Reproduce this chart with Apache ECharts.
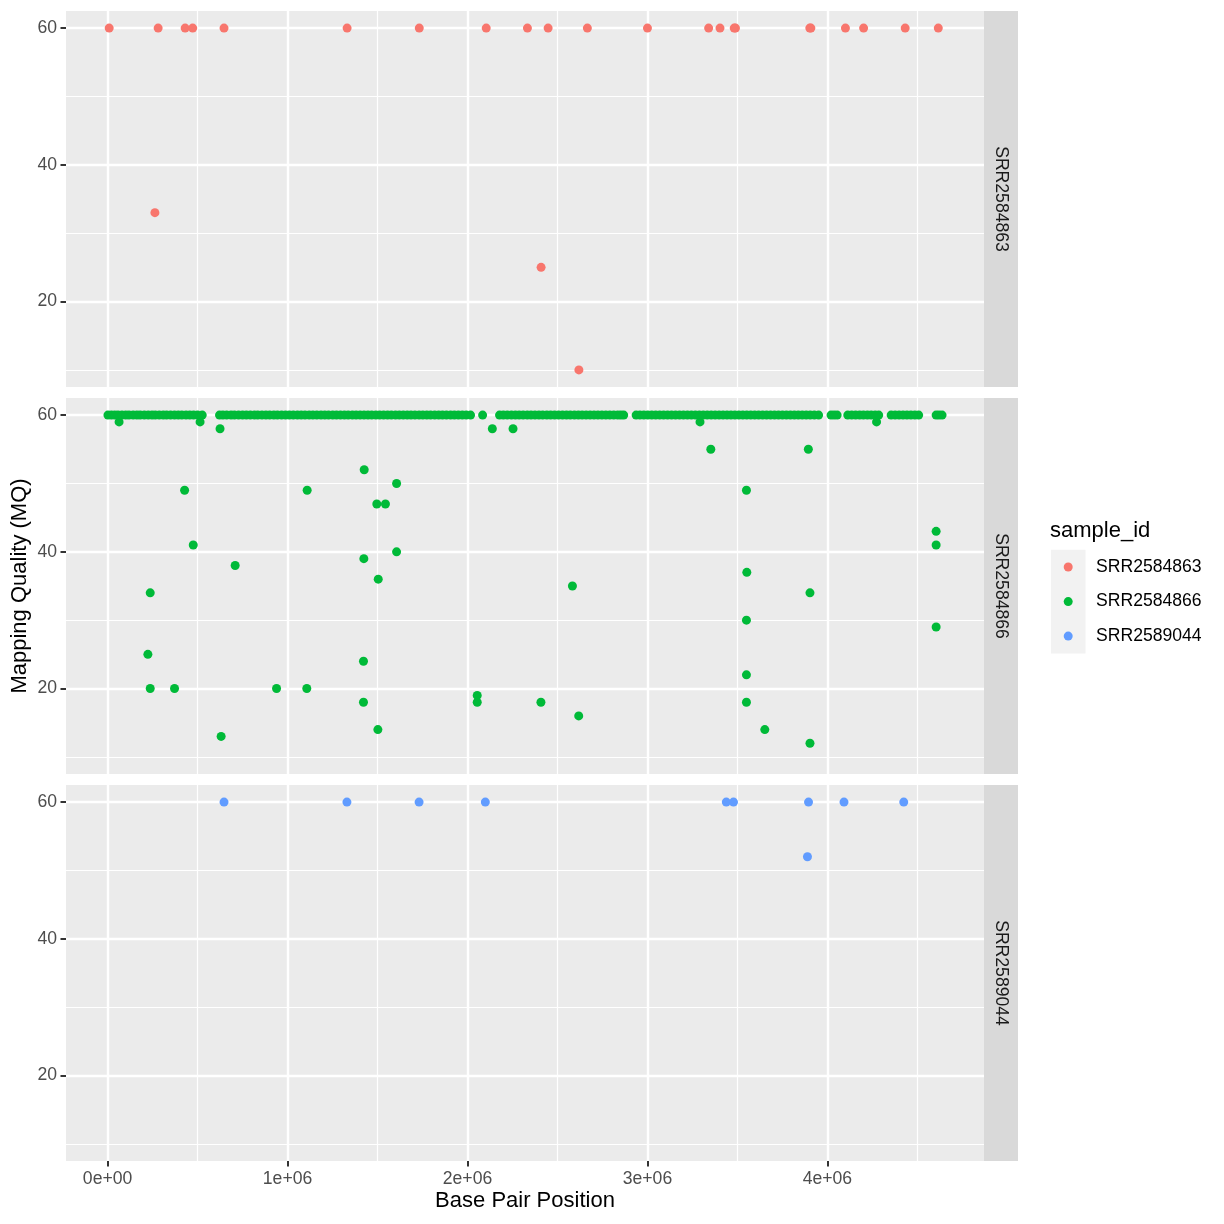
<!DOCTYPE html>
<html>
<head>
<meta charset="utf-8">
<script src="https://cdn.jsdelivr.net/npm/echarts@6/dist/echarts.min.js"></script>
<style>
html,body{margin:0;padding:0;background:#fff;}
#chart{width:1224px;height:1224px;}
</style>
</head>
<body>
<div id="chart"></div>
<script>
// ---------------- DATA ----------------
const sampleIds = ['SRR2584863', 'SRR2584866', 'SRR2589044'];
const sampleColors = ['#F8766D', '#00BA38', '#619CFF'];

const xTickValues = [0, 1000000, 2000000, 3000000, 4000000];
const xTickLabels = ['0e+00', '1e+06', '2e+06', '3e+06', '4e+06'];
const xMinorValues = [500000, 1500000, 2500000, 3500000, 4500000];
const yTickValues = [20, 40, 60];
const yTickLabels = ['20', '40', '60'];
const yMinorValues = [10, 30, 50];

// SRR2584863
const s63Pos = [9000, 263000, 281000, 431000, 473000, 647000, 1331000, 1732000, 2104000, 2333000,
  2409000, 2448000, 2619000, 2666000, 3000000, 3340000, 3403000, 3482000, 3489000, 3902000,
  3908000, 4100000, 4201000, 4432000, 4616000];
const s63MQ = [60, 33, 60, 60, 60, 60, 60, 60, 60, 60,
  25, 60, 10, 60, 60, 60, 60, 60, 60, 60,
  60, 60, 60, 60, 60];

// SRR2584866 : positions with MQ below 60
const s66LowPos = [64000, 514000, 625000, 2138000, 2253000, 3292000, 4273000,
  1426000, 1606000, 428000, 1109000, 1496000, 1544000, 476000, 1606000, 1424000, 709000, 1504000,
  237000, 224000, 1422000, 237000, 372000, 939000, 1107000, 1422000, 2054000, 2054000, 1502000, 631000,
  3352000, 3894000, 3550000, 4604000, 4604000, 3552000, 2583000, 3903000, 3550000, 4604000,
  3550000, 2408000, 3550000, 2618000, 3652000, 3903000];
const s66LowMQ = [59, 59, 58, 58, 58, 59, 59,
  52, 50, 49, 49, 47, 47, 41, 40, 39, 38, 36,
  34, 25, 24, 20, 20, 20, 20, 18, 19, 18, 14, 13,
  55, 55, 49, 43, 41, 37, 35, 34, 30, 29,
  22, 18, 18, 16, 14, 12];
// SRR2584866 : positions with MQ = 60 (dense band)
const s66TopPos = [
  2000, 21000, 40000, 58000, 80000, 101000, 119000, 142000, 163000, 181000, 204000, 226000, 247000,
  265000, 287000, 309000, 328000, 350000, 372000, 393000, 413000, 436000, 457000, 478000, 500000, 526000,
  622000, 641000, 662000, 686000, 705000, 728000, 750000, 771000, 793000, 816000, 835000, 858000,
  880000, 901000, 924000, 944000, 967000, 989000, 1010000, 1032000, 1055000, 1076000, 1097000, 1120000,
  1141000, 1163000, 1186000, 1207000, 1228000, 1251000, 1272000, 1294000, 1316000, 1337000, 1360000,
  1381000, 1403000, 1425000, 1447000, 1468000, 1491000, 1512000, 1534000, 1556000, 1577000, 1600000,
  1621000, 1643000, 1665000, 1686000, 1708000, 1731000, 1752000, 1774000, 1795000, 1818000, 1840000,
  1861000, 1883000, 1906000, 1927000, 1949000, 1971000, 1993000, 2017000,
  2084000,
  2178000, 2199000, 2221000, 2244000, 2266000, 2287000, 2309000, 2332000, 2353000, 2375000, 2397000,
  2418000, 2441000, 2462000, 2484000, 2506000, 2528000, 2550000, 2571000, 2594000, 2616000, 2637000,
  2659000, 2681000, 2703000, 2725000, 2747000, 2769000, 2791000, 2813000, 2835000, 2852000, 2868000,
  2937000, 2958000, 2980000, 3002000, 3024000, 3046000, 3068000, 3090000, 3112000, 3134000, 3156000,
  3178000, 3200000, 3222000, 3244000, 3266000, 3288000, 3310000, 3332000, 3354000, 3376000, 3398000,
  3420000, 3442000, 3464000, 3486000, 3508000, 3530000, 3552000, 3574000, 3596000, 3618000, 3640000,
  3662000, 3684000, 3706000, 3728000, 3750000, 3772000, 3794000, 3816000, 3838000, 3860000, 3882000,
  3904000, 3927000, 3951000,
  4020000, 4037000, 4054000,
  4113000, 4135000, 4157000, 4179000, 4200000, 4222000, 4243000, 4265000, 4285000,
  4354000, 4376000, 4398000, 4420000, 4442000, 4464000, 4486000, 4507000,
  4604000, 4620000, 4637000];

// SRR2589044
const s44Pos = [647000, 1330000, 1731000, 2099000, 3438000, 3478000, 3889000, 3895000, 4092000, 4424000];
const s44MQ = [60, 60, 60, 60, 60, 60, 52, 60, 60, 60];

// ---------------- BUILD ----------------
const FONT = '"Liberation Sans", Arial, Helvetica, sans-serif';
const X_MIN = -231000, X_MAX = 4870000;
const Y_MIN = 7.5, Y_MAX = 62.5;
const gridTops = [11, 398, 785];
const GRID_LEFT = 66, GRID_W = 918, GRID_H = 376;

function pairs(xs, ys) { return xs.map((x, i) => [x, ys[i]]); }
const panelData = [
  pairs(s63Pos, s63MQ),
  pairs(s66TopPos, s66TopPos.map(() => 60)).concat(pairs(s66LowPos, s66LowMQ)),
  pairs(s44Pos, s44MQ)
];

const grids = [], xAxes = [], yAxes = [], series = [];
gridTops.forEach((top, g) => {
  grids.push({left: GRID_LEFT, top: top, width: GRID_W, height: GRID_H, show: true,
    backgroundColor: '#EBEBEB', borderWidth: 0});
  const bottom = g === gridTops.length - 1;
  // major x
  xAxes.push({type: 'value', gridIndex: g, min: X_MIN, max: X_MAX, position: 'bottom',
    axisLine: {show: false, onZero: false},
    axisTick: {show: true, customValues: xTickValues, length: 5.5, inside: false,
      lineStyle: {color: bottom ? '#333333' : 'rgba(0,0,0,0)', width: 2}},
    axisLabel: {show: bottom, customValues: xTickValues, margin: 9, color: '#4D4D4D', fontSize: 17.6,
      fontFamily: FONT, formatter: v => xTickLabels[xTickValues.indexOf(v)] || ''},
    splitLine: {show: true, lineStyle: {color: '#FFFFFF', width: 2.4}}});
  // minor x
  xAxes.push({type: 'value', gridIndex: g, min: X_MIN, max: X_MAX, position: 'top',
    axisLine: {show: false, onZero: false},
    axisTick: {show: true, customValues: xMinorValues, length: 0, lineStyle: {color: 'rgba(0,0,0,0)'}},
    axisLabel: {show: false, customValues: xMinorValues},
    splitLine: {show: true, lineStyle: {color: '#FFFFFF', width: 1.2}}});
  // major y
  yAxes.push({type: 'value', gridIndex: g, min: Y_MIN, max: Y_MAX, position: 'left',
    axisLine: {show: false, onZero: false},
    axisTick: {show: true, customValues: yTickValues, length: 5.5, lineStyle: {color: '#333333', width: 2}},
    axisLabel: {show: true, customValues: yTickValues, margin: 9, color: '#4D4D4D', fontSize: 17.6,
      fontFamily: FONT, formatter: v => yTickLabels[yTickValues.indexOf(v)] || ''},
    splitLine: {show: true, lineStyle: {color: '#FFFFFF', width: 2.4}}});
  // minor y
  yAxes.push({type: 'value', gridIndex: g, min: Y_MIN, max: Y_MAX, position: 'right',
    axisLine: {show: false, onZero: false},
    axisTick: {show: true, customValues: yMinorValues, length: 0, lineStyle: {color: 'rgba(0,0,0,0)'}},
    axisLabel: {show: false, customValues: yMinorValues},
    splitLine: {show: true, lineStyle: {color: '#FFFFFF', width: 1.2}}});
  series.push({type: 'scatter', name: sampleIds[g], xAxisIndex: 2 * g, yAxisIndex: 2 * g,
    data: panelData[g], symbol: 'circle', symbolSize: 9,
    itemStyle: {color: sampleColors[g], opacity: 1}, emphasis: {disabled: true}, silent: true});
});

const graphics = [];
gridTops.forEach((top, g) => {
  graphics.push({type: 'rect', shape: {x: GRID_LEFT + GRID_W, y: top, width: 34, height: GRID_H},
    style: {fill: '#D9D9D9'}, silent: true});
  graphics.push({type: 'text', x: GRID_LEFT + GRID_W + 17, y: top + GRID_H / 2, rotation: -Math.PI / 2,
    style: {text: sampleIds[g], fontSize: 17.6, fontFamily: FONT, fill: '#1A1A1A',
      align: 'center', verticalAlign: 'middle'}, silent: true});
});
// axis titles
graphics.push({type: 'text', x: GRID_LEFT + GRID_W / 2, y: 1201,
  style: {text: 'Base Pair Position', fontSize: 22, fontFamily: FONT, fill: '#000',
    align: 'center', verticalAlign: 'middle'}});
graphics.push({type: 'text', x: 20, y: (gridTops[0] + gridTops[2] + GRID_H) / 2, rotation: Math.PI / 2,
  style: {text: 'Mapping Quality (MQ)', fontSize: 22, fontFamily: FONT, fill: '#000',
    align: 'center', verticalAlign: 'middle'}});
// legend
graphics.push({type: 'text', x: 1050, y: 531,
  style: {text: 'sample_id', fontSize: 22, fontFamily: FONT, fill: '#000', align: 'left', verticalAlign: 'middle'}});
graphics.push({type: 'rect', shape: {x: 1051, y: 549.7, width: 34.5, height: 103.7}, style: {fill: '#F2F2F2'}});
sampleIds.forEach((id, i) => {
  const cy = 567 + i * 34.56;
  graphics.push({type: 'circle', shape: {cx: 1068.2, cy: cy, r: 4.5}, style: {fill: sampleColors[i]}});
  graphics.push({type: 'text', x: 1096, y: cy,
    style: {text: id, fontSize: 17.6, fontFamily: FONT, fill: '#000', align: 'left', verticalAlign: 'middle'}});
});

const chart = echarts.init(document.getElementById('chart'), null, {renderer: 'canvas'});
chart.setOption({
  animation: false,
  backgroundColor: '#FFFFFF',
  grid: grids,
  xAxis: xAxes,
  yAxis: yAxes,
  series: series,
  graphic: graphics
});
</script>
</body>
</html>
